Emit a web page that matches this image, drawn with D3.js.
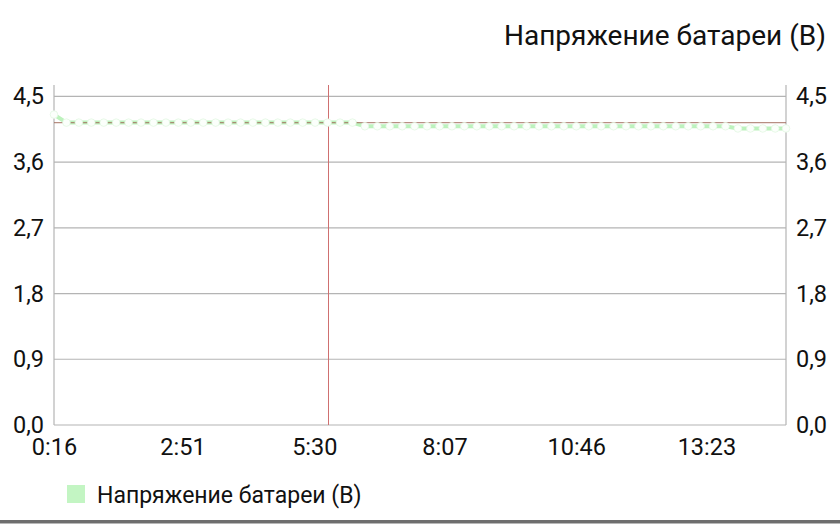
<!DOCTYPE html>
<html>
<head>
<meta charset="utf-8">
<script src="https://cdn.jsdelivr.net/npm/d3@7"></script>
<style>
  body { margin: 0; background: #fff; }
  svg { display: block; font-family: Roboto, sans-serif; }
</style>
</head>
<body>
<div id="chart"></div>
<script>
// chart size
var svgWidth = 840;
var svgHeight = 530;
var margin = {top: 85, right: 54, bottom: 105, left: 54};

// data: seconds since start / battery voltage
var times = [16, 31, 46, 61, 76, 91, 106, 121, 136, 151, 166, 181, 196, 211, 226, 241, 256, 271, 286, 301,
             316, 331, 346, 361, 376, 391, 406, 421, 436, 451, 466, 481, 496, 511, 526, 541, 556, 571, 586, 601,
             616, 631, 646, 661, 676, 691, 706, 721, 736, 751, 766, 781, 796, 811, 826, 841, 856, 871, 886, 899];
var voltage = [4.25, 4.14, 4.14, 4.14, 4.14, 4.14, 4.14, 4.14, 4.14, 4.14, 4.14, 4.14, 4.14, 4.14, 4.14, 4.14, 4.14, 4.14, 4.14, 4.14,
               4.14, 4.14, 4.14, 4.14, 4.14, 4.09, 4.09, 4.09, 4.09, 4.09, 4.09, 4.09, 4.09, 4.09, 4.09, 4.09, 4.09, 4.09, 4.09, 4.09,
               4.09, 4.09, 4.09, 4.09, 4.09, 4.09, 4.09, 4.09, 4.09, 4.09, 4.09, 4.09, 4.09, 4.09, 4.09, 4.06, 4.06, 4.06, 4.06, 4.06];
var xTicks = [16, 171, 330, 487, 646, 803];
var xTickLabels = ['0:16', '2:51', '5:30', '8:07', '10:46', '13:23'];
var yTicks = [0, 0.9, 1.8, 2.7, 3.6, 4.5];
var limitTime = 346;
var limitVoltage = 4.14;
var seriesName = 'Напряжение батареи (В)';

var w = svgWidth - margin.left - margin.right;
var h = svgHeight - margin.top - margin.bottom;

var svg = d3.select('#chart')
  .append('svg')
  .attr('width', svgWidth)
  .attr('height', svgHeight);

var g = svg.append('g')
  .attr('transform', 'translate(' + margin.left + ',' + margin.top + ')');

var x = d3.scaleLinear().domain([16, 899]).range([0, w]);
var y = d3.scaleLinear().domain([0, 4.655]).range([h, 0]);

var fmtY = function(d){ return d.toFixed(1).replace('.', ','); };

// grid
g.selectAll('line.grid')
  .data(yTicks)
  .enter()
  .append('line')
  .attr('class', 'grid')
  .attr('x1', 0)
  .attr('x2', w)
  .attr('y1', d => y(d))
  .attr('y2', d => y(d))
  .attr('stroke', '#b4b4b4')
  .attr('stroke-width', 1.2);

// side axes
[0, w].forEach(function(xx){
  g.append('line')
    .attr('x1', xx).attr('x2', xx)
    .attr('y1', 0).attr('y2', h)
    .attr('stroke', '#b4b4b4')
    .attr('stroke-width', 1.2);
});

// left / right labels
var yLeft = d3.axisLeft(y).tickValues(yTicks).tickFormat(fmtY).tickSize(0).tickPadding(10);
var yRight = d3.axisRight(y).tickValues(yTicks).tickFormat(fmtY).tickSize(0).tickPadding(10);
[g.append('g').call(yLeft), g.append('g').attr('transform', 'translate(' + w + ',0)').call(yRight)]
  .forEach(function(a){
    a.select('.domain').remove();
    a.selectAll('text').style('font-size', '23.5px').style('font-family', 'Roboto').attr('fill', '#111');
  });

// bottom labels
var xAxis = d3.axisBottom(x).tickValues(xTicks)
  .tickFormat((d, i) => xTickLabels[i]).tickSize(0).tickPadding(13);
var xa = g.append('g').attr('transform', 'translate(0,' + h + ')').call(xAxis);
xa.select('.domain').remove();
xa.selectAll('text').style('font-size', '23.5px').style('font-family', 'Roboto').attr('fill', '#111');

// series line
var line = d3.line()
  .x((d, i) => x(times[i]))
  .y(d => y(d));

g.append('path')
  .datum(voltage)
  .attr('d', line)
  .attr('fill', 'none')
  .attr('stroke', '#bdf2bd')
  .attr('stroke-width', 4);

// limit lines
g.append('line')
  .attr('x1', 0).attr('x2', w)
  .attr('y1', y(limitVoltage)).attr('y2', y(limitVoltage))
  .attr('stroke', '#a06a5a')
  .attr('stroke-opacity', 0.75)
  .attr('stroke-width', 1.2);
g.append('line')
  .attr('x1', Math.round(x(limitTime)) + 0.5).attr('x2', Math.round(x(limitTime)) + 0.5)
  .attr('y1', 0).attr('y2', h)
  .attr('stroke', '#cf7070')
  .attr('stroke-width', 1);

// point circles
g.selectAll('circle.pt')
  .data(voltage)
  .enter()
  .append('circle')
  .attr('class', 'pt')
  .attr('cx', (d, i) => x(times[i]))
  .attr('cy', d => y(d))
  .attr('r', 3.8)
  .attr('fill', '#fbfffb')
  .attr('stroke', '#e2f8e2')
  .attr('stroke-width', 0.8);

// title
svg.append('text')
  .attr('x', 826)
  .attr('y', 45)
  .attr('text-anchor', 'end')
  .style('font-size', '28px')
  .attr('fill', '#111')
  .text(seriesName);

// legend
svg.append('rect')
  .attr('x', 67).attr('y', 485)
  .attr('width', 18).attr('height', 18)
  .attr('fill', '#c3f5c3');
svg.append('text')
  .attr('x', 97)
  .attr('y', 503)
  .style('font-size', '23px')
  .attr('fill', '#111')
  .text(seriesName);

// bottom bar
svg.append('rect')
  .attr('x', 0).attr('y', 520)
  .attr('width', svgWidth).attr('height', 3)
  .attr('fill', '#6e6e6e');
svg.append('rect')
  .attr('x', 0).attr('y', 523)
  .attr('width', svgWidth).attr('height', 1)
  .attr('fill', '#b8b8b8');
</script>
</body>
</html>
